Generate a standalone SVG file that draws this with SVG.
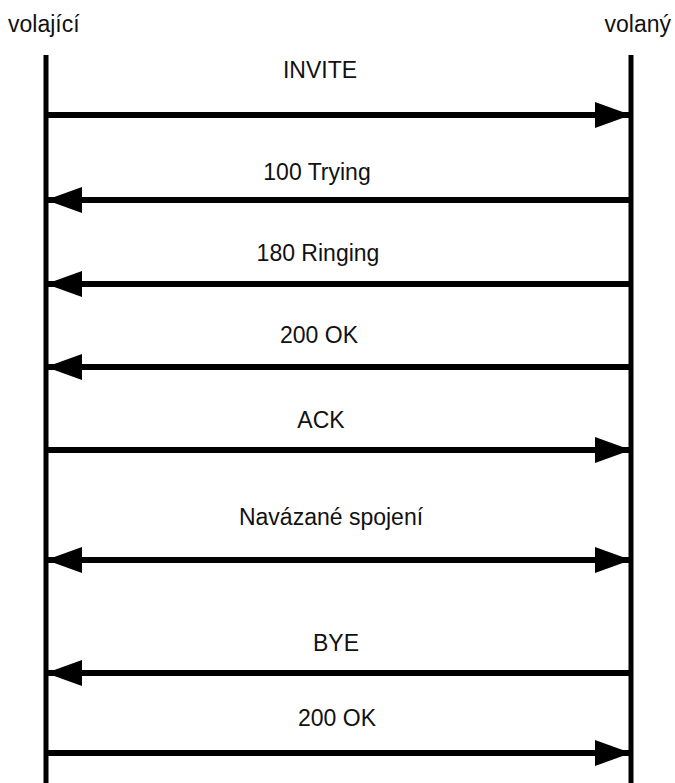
<svg xmlns="http://www.w3.org/2000/svg" width="675" height="783" viewBox="0 0 675 783">
<style>
.life{stroke:#000;stroke-width:5;fill:none}
.msg{stroke:#000;stroke-width:6;fill:none}
.lbl{font-family:"Liberation Sans",Arial,sans-serif;font-size:23px;fill:#111;text-anchor:middle}
.hd{font-family:"Liberation Sans",Arial,sans-serif;font-size:23px;fill:#111}
</style>
<defs>
<marker id="ah" markerUnits="userSpaceOnUse" markerWidth="36" markerHeight="26" refX="34" refY="13" orient="auto-start-reverse" viewBox="0 0 36 26">
<path d="M0,0 L36,13 L0,26 Z" fill="#000"/>
</marker>
</defs>
<rect width="675" height="783" fill="#fff"/>
<g id="caller">
<text class="hd" x="8" y="32">volající</text>
<line class="life" x1="46" y1="55" x2="46" y2="783"/>
</g>
<g id="callee">
<text class="hd" x="671" y="32" text-anchor="end">volaný</text>
<line class="life" x1="631" y1="55" x2="631" y2="783"/>
</g>
<g id="connectors">
<line class="msg" x1="46" y1="115" x2="629" y2="115" marker-end="url(#ah)"/>
<text class="lbl" x="320" y="78">INVITE</text>
<line class="msg" x1="631" y1="200" x2="48" y2="200" marker-end="url(#ah)"/>
<text class="lbl" x="317" y="180">100 Trying</text>
<line class="msg" x1="631" y1="284" x2="48" y2="284" marker-end="url(#ah)"/>
<text class="lbl" x="318" y="261">180 Ringing</text>
<line class="msg" x1="631" y1="367" x2="48" y2="367" marker-end="url(#ah)"/>
<text class="lbl" x="319" y="343">200 OK</text>
<line class="msg" x1="46" y1="450" x2="629" y2="450" marker-end="url(#ah)"/>
<text class="lbl" x="321" y="428">ACK</text>
<line class="msg" x1="48" y1="560" x2="629" y2="560" marker-start="url(#ah)" marker-end="url(#ah)"/>
<text class="lbl" x="331" y="525">Navázané spojení</text>
<line class="msg" x1="631" y1="673" x2="48" y2="673" marker-end="url(#ah)"/>
<text class="lbl" x="336" y="651">BYE</text>
<line class="msg" x1="46" y1="753" x2="629" y2="753" marker-end="url(#ah)"/>
<text class="lbl" x="337" y="726">200 OK</text>
</g>
</svg>
